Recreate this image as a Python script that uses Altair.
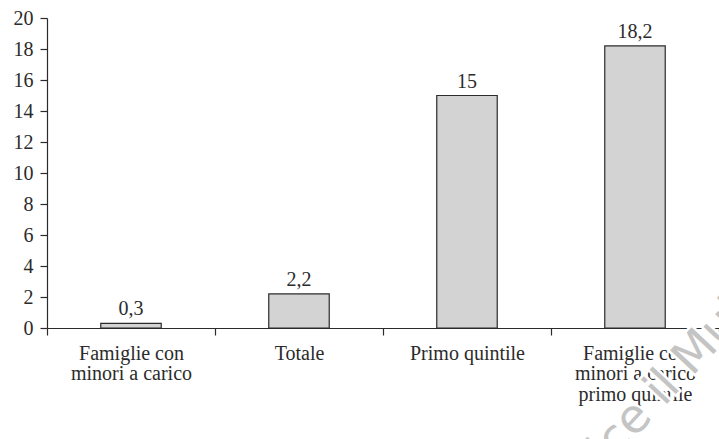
import altair as alt
import pandas as pd

# Categories ("|" marks a line break in the axis label) and their values
categories = [
    "Famiglie con|minori a carico",
    "Totale",
    "Primo quintile",
    "Famiglie con|minori a carico|primo quintile",
]
values = [0.3, 2.2, 15, 18.2]
y_ticks = [0, 2, 4, 6, 8, 10, 12, 14, 16, 18, 20]

df = pd.DataFrame({"categoria": categories, "valore": values})

FONT = "Liberation Serif"
INK = "#2b2b2b"
SIZE = 20

x_enc = alt.X(
    "categoria:N",
    sort=categories,
    scale=alt.Scale(paddingInner=0, paddingOuter=0),
    axis=alt.Axis(
        title=None,
        labelAngle=0,
        tickBand="extent",
        labelExpr="split(datum.label, '|')",
        labelFont=FONT,
        labelFontSize=SIZE,
        labelColor=INK,
        labelLineHeight=20.5,
        labelPadding=8,
        tickSize=7,
        tickColor=INK,
        domainColor=INK,
        tickWidth=1.2,
        domainWidth=1.2,
        grid=False,
    ),
)

y_enc = alt.Y(
    "valore:Q",
    scale=alt.Scale(domain=[0, 20], nice=False),
    axis=alt.Axis(
        title=None,
        values=y_ticks,
        labelOverlap=False,
        labelFont=FONT,
        labelFontSize=SIZE,
        labelColor=INK,
        labelPadding=7,
        tickSize=7,
        tickColor=INK,
        domainColor=INK,
        tickWidth=1.2,
        domainWidth=1.2,
        grid=False,
    ),
)

base = alt.Chart(df).transform_calculate(
    etichetta="replace(toString(datum.valore), '.', ',')"
).encode(x=x_enc, y=y_enc)

bars = base.mark_bar(
    width=alt.RelativeBandSize(0.36),
    color="#d3d3d3",
    stroke=INK,
    strokeWidth=1.2,
)

labels = base.mark_text(
    baseline="bottom",
    dy=-4,
    font=FONT,
    fontSize=SIZE,
    color=INK,
).encode(text="etichetta:N")

# Publisher watermark across the lower right corner: white halo, then grey letters
wm_data = pd.DataFrame({"t": ["editrice il Mulino"]})
wm_style = dict(
    font="DejaVu Sans",
    fontSize=47,
    angle=313,
    align="center",
    baseline="middle",
)
wm_halo = alt.Chart(wm_data).mark_text(
    color="white", stroke="white", strokeWidth=5, **wm_style
).encode(x=alt.value(608), y=alt.value(378), text="t:N")
wm_text = alt.Chart(wm_data).mark_text(
    color="#c4c4c4", **wm_style
).encode(x=alt.value(608), y=alt.value(378), text="t:N")

chart = (
    alt.layer(bars, labels, wm_halo, wm_text)
    .properties(
        width=672,
        height=310,
        autosize=alt.AutoSizeParams(type="none"),
        padding={"left": 47, "top": 18, "right": 0, "bottom": 111},
    )
    .configure_view(stroke=None)
)

chart.save("out.html", embed_options={"renderer": "svg", "actions": False})
